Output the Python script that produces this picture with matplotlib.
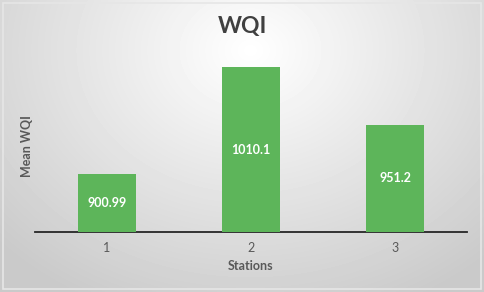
# WQI bar chart, mean per station
import matplotlib.pyplot as plt
from matplotlib.patches import Rectangle
import numpy as np

stations = ['1', '2', '3']
mean_wqi = [900.99, 1010.1, 951.2]

plt.rcParams['font.family'] = ['Lato', 'DejaVu Sans']

W, H = 484, 292
fig = plt.figure(figsize=(W / 100, H / 100), dpi=100)

# radial grey gradient background
bg = fig.add_axes([0, 0, 1, 1], zorder=0)
yy, xx = np.mgrid[0:H, 0:W]
r = np.sqrt(((xx - 250) / 330.0) ** 2 + ((yy - 50) / 270.0) ** 2)
shade = np.clip(1.0 - 0.2 * r, 0.79, 1.0)
bg.imshow(shade, cmap='gray', vmin=0, vmax=1, extent=[0, W, H, 0], aspect='auto')
bg.set_xlim(0, W)
bg.set_ylim(H, 0)
bg.axis('off')
fig.patches.append(Rectangle((3 / W, 3 / H), 1 - 6 / W, 1 - 6 / H, transform=fig.transFigure,
                             fill=False, edgecolor='#e6e6e6', linewidth=1.2, zorder=1))

# plot area: x 35..467 px, baseline at y=232
ax = fig.add_axes([35 / W, (H - 232) / H, 432 / W, 182 / H], zorder=2)
ax.patch.set_alpha(0)
x = np.arange(len(stations))
bars = ax.bar(x, mean_wqi, width=0.4, color='#5db55a', zorder=3)
ax.set_xlim(-0.5, 2.5)
ax.set_ylim(841, 841 + 182 / 0.973)

for b, v in zip(bars, mean_wqi):
    ax.text(b.get_x() + b.get_width() / 2, (841 + v) / 2, '{:g}'.format(v),
            ha='center', va='center', color='white', fontsize=9, fontweight='bold', zorder=4)

for s in ['top', 'right', 'left']:
    ax.spines[s].set_visible(False)
ax.spines['bottom'].set_linewidth(1.3)
ax.spines['bottom'].set_color('#262626')
ax.set_yticks([])
ax.set_xticks(x)
ax.set_xticklabels(stations)
ax.tick_params(axis='x', length=0, pad=7, labelsize=9, labelcolor='#595959')

fig.text(0.5, 1 - 27 / H, 'WQI', ha='center', va='center', fontsize=16.5,
         fontweight='bold', color='#404040')
fig.text(251 / W, 1 - 266 / H, 'Stations', ha='center', va='center', fontsize=9,
         fontweight='bold', color='#595959')
fig.text(27 / W, 1 - 146 / H, 'Mean WQI', ha='center', va='center', rotation=90,
         fontsize=9, fontweight='bold', color='#595959')

fig.savefig('out.png', dpi=100)
